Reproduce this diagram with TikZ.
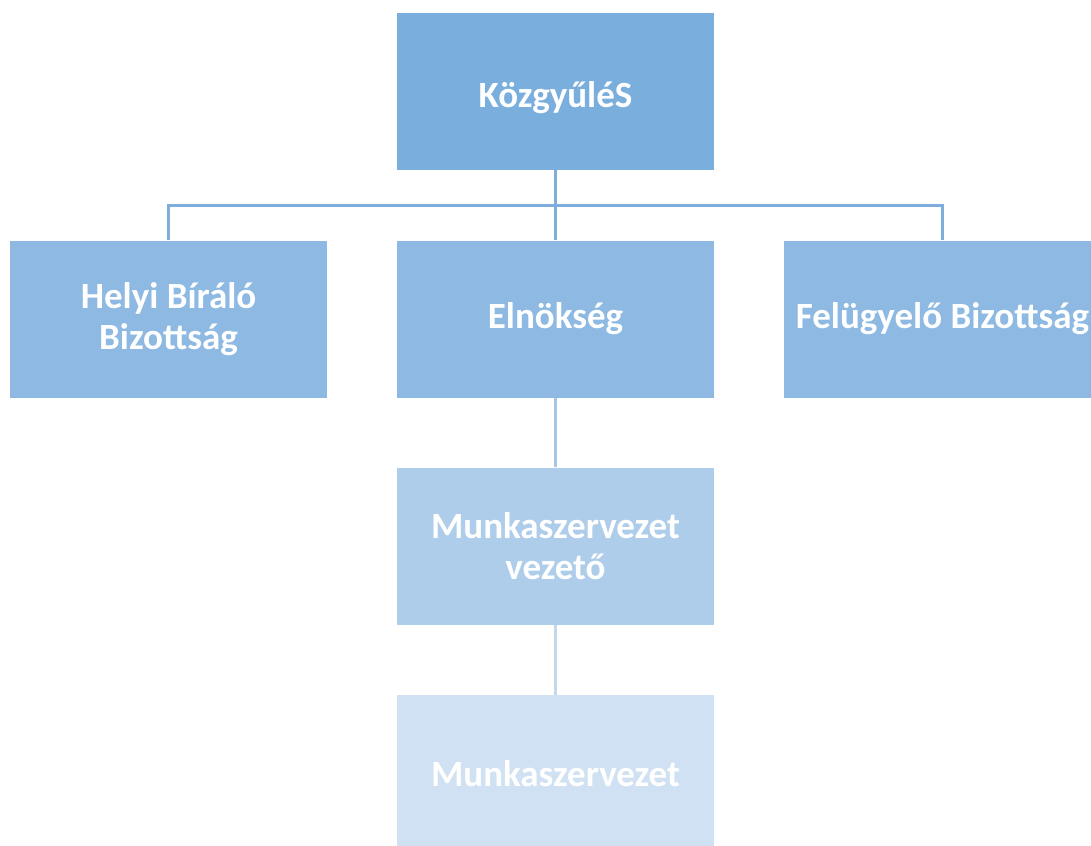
\documentclass[tikz,border=0pt]{standalone}
\usepackage{fontspec}
\setmainfont{Carlito}
\usepackage{xcolor}
\usetikzlibrary{positioning,calc}
\definecolor{lvlA}{HTML}{7AAEDC}
\definecolor{lvlB}{HTML}{8DB9E2}
\definecolor{lvlC}{HTML}{AECDEA}
\definecolor{lvlD}{HTML}{CFE1F2}
\definecolor{lineA}{HTML}{7DAEDD}
\definecolor{lineB}{HTML}{A6C6E8}
\definecolor{lineC}{HTML}{C3D8EE}

\begin{document}
\begin{tikzpicture}[x=1pt, y=1pt,
                % box styles
                orgbox/.style={rectangle, text=white, font=\fontsize{37}{41}\selectfont\bfseries, minimum width=317pt, minimum height=157pt, inner sep=0pt, align=center},
                topbox/.style={orgbox, fill=lvlA, text height=40pt, text depth=8pt},
                midbox/.style={orgbox, fill=lvlB},
                lowbox/.style={orgbox, fill=lvlC},
                lastbox/.style={orgbox, fill=lvlD},
                % connector styles
                conn/.style={draw=lineA, line width=3pt},
                connlow/.style={draw=lineB, line width=3pt},
                connlast/.style={draw=lineC, line width=3pt}
            ]
                \useasboundingbox (0,0) rectangle (1091,-845);

                % --- BOXES ---
                % Top
                \node[topbox] (kozgy) at (555.5, -91.5) {KözgyűléS};

                % Level 2
                \node[midbox] (helyi) at (168.5, -319) {Helyi Bíráló\\Bizottság};
                \node[midbox] (elnok) at (555.5, -319) {Elnökség};
                \node[midbox] (felugy) at (942.5, -319) {Felügyelő Bizottság};

                % Level 3
                \node[lowbox] (mvez) at (555.5, -546) {Munkaszervezet\\vezető};

                % Level 4
                \node[lastbox] (munka) at (555.5, -773.5) {Munkaszervezet};

                % --- CONNECTORS ---
                \coordinate (bus) at (555.5, -205);
                \draw[conn] (kozgy.south) -- (bus);
                \draw[conn] (bus) -| (helyi.north);
                \draw[conn] (bus) -| (felugy.north);
                \draw[conn] (bus) -- (elnok.north);

                \draw[connlow] (elnok.south) -- (mvez.north);
                \draw[connlast] (mvez.south) -- (munka.north);

            \end{tikzpicture}
\end{document}
